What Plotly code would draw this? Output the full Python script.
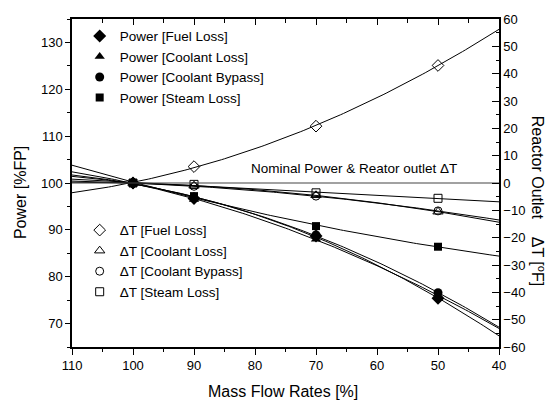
import numpy as np
import plotly.graph_objects as go

# ---- data ----
flow = [100, 90, 70, 50]

power_fuel_loss = [100, 96.7, 88.7, 75.4]
power_coolant_loss = [100, 96.5, 88.0, 76.0]
power_coolant_bypass = [100, 96.8, 88.9, 76.6]
power_steam_loss = [100, 97.2, 90.8, 86.4]

dT_fuel_loss = [0, 6.0, 20.8, 43.0]
dT_coolant_loss = [0, -1.0, -4.5, -10.5]
dT_coolant_bypass = [0, -1.2, -4.8, -10.2]
dT_steam_loss = [0, -0.5, -3.6, -5.6]

nominal_flow = [110, 40]
nominal_power = [100, 100]

x_ticks = [110, 100, 90, 80, 70, 60, 50, 40]

FONT = "Liberation Sans"

fig = go.Figure()

fit_x = np.linspace(110, 40, 141)

def fit_line(y, yaxis):
    c = np.polyfit(flow, y, 2)
    fig.add_trace(go.Scatter(x=fit_x, y=np.polyval(c, fit_x), mode="lines",
                             line=dict(color="black", width=1), yaxis=yaxis,
                             showlegend=False, hoverinfo="skip"))

for s in [power_fuel_loss, power_coolant_loss, power_coolant_bypass, power_steam_loss]:
    fit_line(s, "y")
for s in [dT_fuel_loss, dT_coolant_loss, dT_coolant_bypass, dT_steam_loss]:
    fit_line(s, "y2")

# nominal line (on top x axis so that axis is drawn)
fig.add_trace(go.Scatter(x=nominal_flow, y=nominal_power, mode="lines", xaxis="x2", yaxis="y",
                         line=dict(color="#444444", width=1.2), showlegend=False, hoverinfo="skip"))

power_series = [
    ("Power [Fuel Loss]", power_fuel_loss, "diamond", 10),
    ("Power [Coolant Loss]", power_coolant_loss, "triangle-up", 9),
    ("Power [Coolant Bypass]", power_coolant_bypass, "circle", 9),
    ("Power [Steam Loss]", power_steam_loss, "square", 8),
]
dT_series = [
    ("\u0394T [Fuel Loss]", dT_fuel_loss, "diamond-open", 9),
    ("\u0394T [Coolant Loss]", dT_coolant_loss, "triangle-up-open", 9),
    ("\u0394T [Coolant Bypass]", dT_coolant_bypass, "circle-open", 8),
    ("\u0394T [Steam Loss]", dT_steam_loss, "square-open", 8),
]

for name, y, sym, sz in dT_series:
    fig.add_trace(go.Scatter(x=flow, y=y, mode="markers", name=name, yaxis="y2",
                             marker=dict(symbol=sym, size=sz, color="black", line=dict(color="black", width=1)),
                             legend="legend2"))
for name, y, sym, sz in power_series:
    fig.add_trace(go.Scatter(x=flow, y=y, mode="markers", name=name, yaxis="y",
                             marker=dict(symbol=sym, size=sz, color="black"),
                             legend="legend"))

axis_common = dict(showgrid=False, zeroline=False, linecolor="black", linewidth=1.5,
                   tickcolor="black", tickwidth=1.2, tickfont=dict(family=FONT, size=13, color="black"))

fig.update_layout(
    width=555, height=405,
    margin=dict(l=72, r=56, t=15, b=58),
    paper_bgcolor="white", plot_bgcolor="white",
    font=dict(family=FONT, color="black"),
    xaxis=dict(range=[110, 40], tickvals=x_ticks, ticks="outside", ticklen=6,
               minor=dict(dtick=5, ticks="outside", ticklen=3, tickcolor="black"),
               **axis_common),
    xaxis2=dict(range=[110, 40], overlaying="x", side="top", tickvals=x_ticks, ticks="inside",
                ticklen=6, showticklabels=False,
                minor=dict(dtick=5, ticks="inside", ticklen=4, tickcolor="black"),
                **axis_common),
    yaxis=dict(range=[65, 135], dtick=10, ticks="outside", ticklen=5,
               minor=dict(dtick=5, ticks="outside", ticklen=3, tickcolor="black"),
               **axis_common),
    yaxis2=dict(range=[-60, 60], dtick=10, overlaying="y", side="right", ticks="inside", ticklen=7,
                minor=dict(dtick=5, ticks="inside", ticklen=3, tickcolor="black"),
                **axis_common),
    legend=dict(x=0.018, y=0.995, xanchor="left", yanchor="top", bgcolor="rgba(0,0,0,0)",
                font=dict(family=FONT, size=13.5, color="black"), tracegroupgap=0),
    legend2=dict(x=0.018, y=0.403, xanchor="left", yanchor="top", bgcolor="rgba(0,0,0,0)",
                 font=dict(family=FONT, size=13.5, color="black"), tracegroupgap=0),
    annotations=[
        dict(text="Mass Flow Rates [%]", xref="paper", yref="paper", x=0.493, y=-0.1355,
             showarrow=False, font=dict(family=FONT, size=16, color="black"),
             xanchor="center", yanchor="middle"),
        dict(text="Power [%FP]", xref="paper", yref="paper", x=-0.122, y=0.472, textangle=-90,
             showarrow=False, font=dict(family=FONT, size=16, color="black"),
             xanchor="center", yanchor="middle"),
        dict(text="Reactor Outlet\u00a0\u00a0\u00a0\u00a0\u0394T [<sup>o</sup>F]", xref="paper", yref="paper",
             x=1.092, y=0.445, textangle=90,
             showarrow=False, font=dict(family=FONT, size=16, color="black"),
             xanchor="center", yanchor="middle"),
        dict(text="Nominal Power & Reator outlet \u0394T", xref="x", yref="y", x=63.7, y=103.1,
             showarrow=False, font=dict(family=FONT, size=13.5, color="black"),
             xanchor="center", yanchor="middle"),
    ],
)

fig.write_html("out.html")
